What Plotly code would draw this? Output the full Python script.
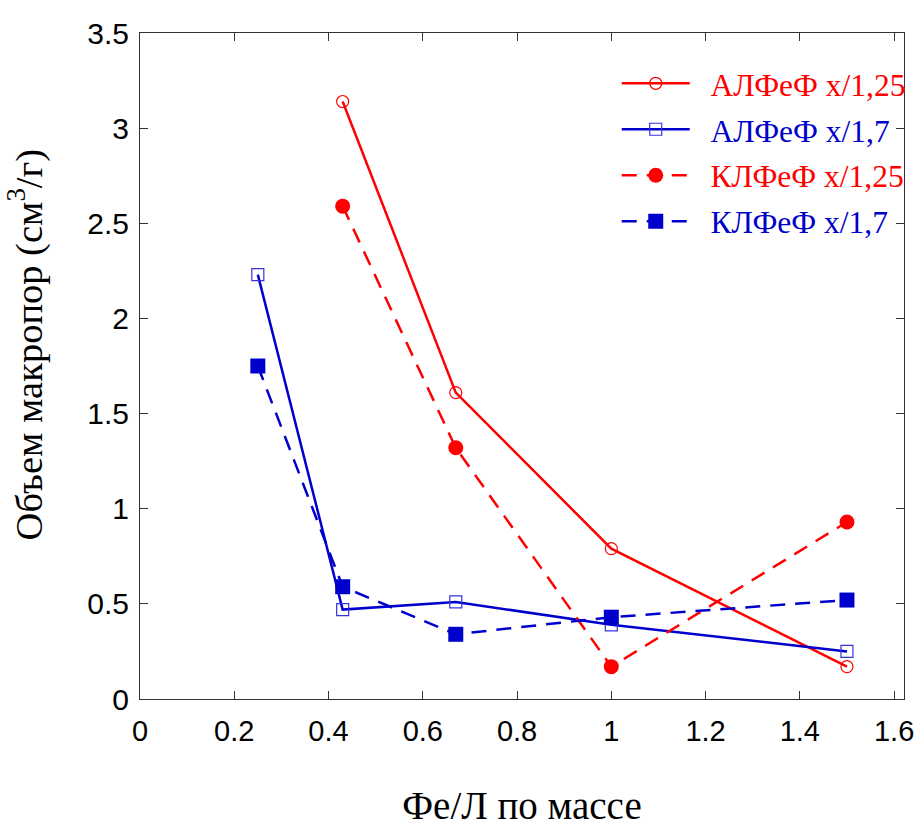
import plotly.graph_objects as go

x_al_125 = [0.43, 0.67, 1.0, 1.5]
y_al_125 = [3.14, 1.61, 0.79, 0.17]

x_al_17 = [0.25, 0.43, 0.67, 1.0, 1.5]
y_al_17 = [2.23, 0.47, 0.51, 0.39, 0.25]

x_kl_125 = [0.43, 0.67, 1.0, 1.5]
y_kl_125 = [2.59, 1.32, 0.17, 0.93]

x_kl_17 = [0.25, 0.43, 0.67, 1.0, 1.5]
y_kl_17 = [1.75, 0.59, 0.34, 0.43, 0.52]

names = ["АЛФеФ x/1,25", "АЛФеФ x/1,7", "КЛФеФ x/1,25", "КЛФеФ x/1,7"]
x_ticks = [0, 0.2, 0.4, 0.6, 0.8, 1, 1.2, 1.4, 1.6]
y_ticks = [0, 0.5, 1, 1.5, 2, 2.5, 3, 3.5]
x_title = "Фе/Л по массе"
y_title = "Объем макропор (см<sup>3</sup>/г)"

RED = "#ff0000"
BLUE = "#0000cc"


def legend_name(text, color):
    return f"<span style='color:{color}'>\u00a0\u00a0{text}</span>"


fig = go.Figure()
fig.add_trace(go.Scatter(
    x=x_al_125, y=y_al_125, name=legend_name(names[0], RED), legendgroup="g1",
    mode="lines+markers",
    line=dict(color=RED, width=2.5),
    marker=dict(symbol="circle-open", size=12, color=RED, line=dict(width=1.2)),
))
fig.add_trace(go.Scatter(
    x=x_al_17, y=y_al_17, name=legend_name(names[1], BLUE), legendgroup="g2",
    mode="lines+markers",
    line=dict(color=BLUE, width=2.5),
    marker=dict(symbol="square-open", size=12, color="#3333dd", line=dict(width=1.2)),
))
fig.add_trace(go.Scatter(
    x=x_kl_125, y=y_kl_125, name=legend_name(names[2], RED), legendgroup="g3",
    mode="lines+markers",
    line=dict(color=RED, width=2.5, dash="15px,10px"),
    marker=dict(symbol="circle", size=15, color=RED),
))
fig.add_trace(go.Scatter(
    x=x_kl_17, y=y_kl_17, name=legend_name(names[3], BLUE), legendgroup="g4",
    mode="lines+markers",
    line=dict(color=BLUE, width=2.5, dash="15px,10px"),
    marker=dict(symbol="square", size=15, color=BLUE),
))

axis_common = dict(
    showgrid=False, zeroline=False, showline=True, linecolor="#333333", linewidth=1,
    mirror="ticks", ticks="inside", ticklen=8, tickcolor="#333333", tickwidth=1,
    automargin=False,
)

fig.update_layout(
    width=917, height=827,
    margin=dict(l=140, r=6, t=33, b=128),
    paper_bgcolor="white", plot_bgcolor="white",
    showlegend=True,
    legend=dict(
        x=0.624, y=0.965, xanchor="left", yanchor="top",
        bgcolor="rgba(0,0,0,0)", itemwidth=68,
        font=dict(family="Liberation Serif", size=31.5),
        traceorder="grouped", tracegroupgap=2,
    ),
    xaxis=dict(
        range=[0, 1.621], tickvals=x_ticks, ticktext=[f"{v:g}" for v in x_ticks],
        tickfont=dict(family="Liberation Sans", size=29, color="black"),
        ticklabeloverflow="allow", ticklabelstandoff=6,
        title=dict(text=x_title, font=dict(family="Liberation Serif", size=39, color="black"), standoff=53),
        **axis_common,
    ),
    yaxis=dict(
        range=[0, 3.5], tickvals=y_ticks, ticktext=[f"{v:g}" for v in y_ticks],
        tickfont=dict(family="Liberation Sans", size=30, color="black"),
        ticklabelstandoff=4,
        **axis_common,
    ),
    annotations=[dict(
        text=y_title, textangle=-90, showarrow=False,
        xref="paper", yref="paper", x=-0.15, y=0.533,
        xanchor="center", yanchor="middle",
        font=dict(family="Liberation Serif", size=38.5, color="black"),
    )],
)

fig.write_html("out.html", config={"displayModeBar": False},
               post_script="document.body.style.margin='0';")
